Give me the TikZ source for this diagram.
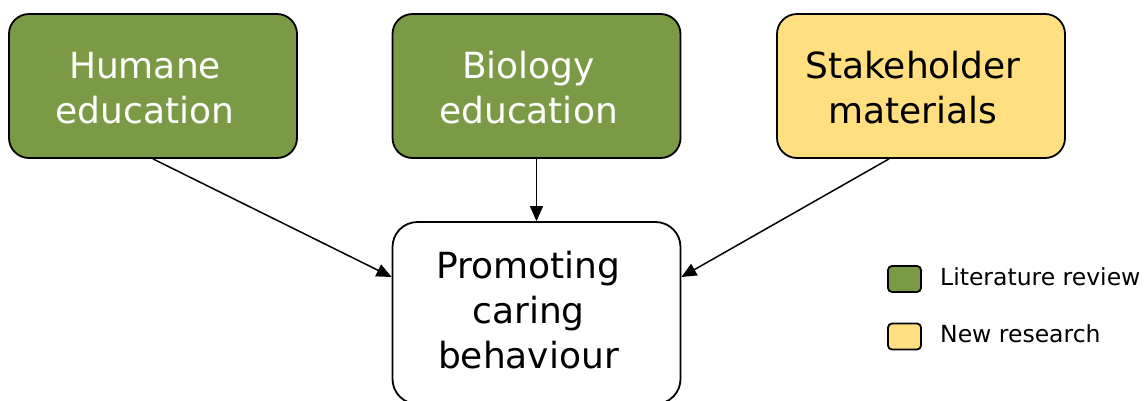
\documentclass[tikz,border=0pt]{standalone}
\usepackage{fontspec}
\setmainfont{DejaVu Sans}
\usetikzlibrary{arrows.meta}
\definecolor{litgreen}{HTML}{7A9A45}
\definecolor{newyellow}{HTML}{FFDF80}
\newcommand\boxtxt[2][-5.5pt]{\raisebox{#1}[\height][\depth]{\begin{tabular}{@{}c@{}}#2\end{tabular}}\kern16pt\relax}
\tikzset{
  box/.style={draw, line width=1.8pt, rounded corners=20pt, minimum width=288pt,
    minimum height=144pt, inner sep=0pt, font=\fontsize{36}{45}\selectfont},
  lit/.style={box, fill=litgreen, text=white},
  newr/.style={box, fill=newyellow, text=black},
  arr/.style={line width=1.5pt, -{Triangle[length=15pt,width=13pt]}},
  legsq/.style={draw, line width=1.8pt, rounded corners=4pt, minimum width=33pt,
    minimum height=26pt, inner sep=0pt},
  legtxt/.style={anchor=base west, inner sep=0pt, font=\fontsize{23.5}{28}\selectfont}
}
\begin{document}
\begin{tikzpicture}[x=1pt,y=-1pt]
\useasboundingbox (0,0) rectangle (1146,400);
\node[lit] (hum) at (153,86) {\boxtxt{Humane\\education}};
\node[lit] (bio) at (536.5,86) {\boxtxt{Biology\\education}};
\node[newr] (stk) at (921,86) {\boxtxt{Stakeholder\\materials}};
\node[box, fill=white, minimum height=182pt, rounded corners=25pt] (prom) at (536.5,313)
  {\boxtxt[-1pt]{Promoting\\caring\\behaviour}};
\draw[arr] (hum.south) -- ([yshift=36pt]prom.west);
\draw[arr] (bio.south) -- (prom.north);
\draw[arr] ([xshift=-32pt]stk.south) -- ([yshift=36pt]prom.east);
\node[legsq, fill=litgreen] (lg1) at (904.5,279) {};
\node[legsq, fill=newyellow] (lg2) at (904.5,336.5) {};
\node[legtxt] (lt1) at (940,285) {Literature review};
\node[legtxt] (lt2) at (940,342) {New research};
\end{tikzpicture}
\end{document}
